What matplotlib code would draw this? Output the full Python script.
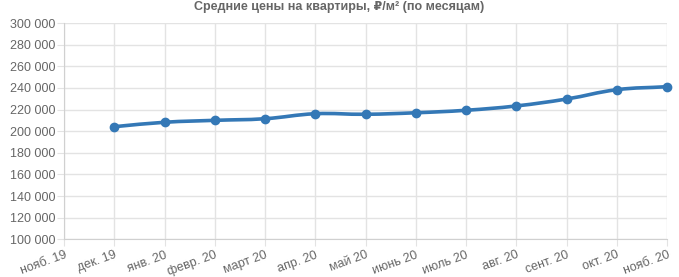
import matplotlib
matplotlib.use("Agg")
import matplotlib.pyplot as plt
import numpy as np
from matplotlib.path import Path
from matplotlib.patches import PathPatch
from matplotlib.ticker import FuncFormatter

plt.rcParams['font.family'] = ['Liberation Sans', 'DejaVu Sans']

# months on the x axis (first one has no data)
months = ['нояб. 19', 'дек. 19', 'янв. 20', 'февр. 20', 'март 20', 'апр. 20',
          'май 20', 'июнь 20', 'июль 20', 'авг. 20', 'сент. 20', 'окт. 20', 'нояб. 20']
prices = [None, 204100, 208200, 210000, 211500, 216100, 215600,
          217000, 219300, 223300, 229700, 238300, 241100]
y_ticks = list(range(100000, 300001, 20000))

line_color = '#3478b6'
grid_color = '#e3e3e3'
text_color = '#666666'

fig = plt.figure(figsize=(6.79, 2.77), dpi=100)
ax = fig.add_axes([64 / 679, (277 - 239.3) / 277, (667 - 64) / 679, (239.3 - 23) / 277])

x = list(range(len(months)))
xs = [i for i, v in zip(x, prices) if v is not None]
ys = [v for v in prices if v is not None]

ax.set_xlim(0, len(months) - 1)
ax.set_ylim(100000, 300000)

# smooth line like chart.js (tension 0.4), control points worked out in pixels
pts = ax.transData.transform(np.column_stack([xs, ys]))
tension = 0.4
verts = [pts[0]]
codes = [Path.MOVETO]
cps = []
for i in range(len(pts)):
    prev = pts[max(i - 1, 0)]
    cur = pts[i]
    nxt = pts[min(i + 1, len(pts) - 1)]
    d01 = np.hypot(*(cur - prev))
    d12 = np.hypot(*(nxt - cur))
    tot = d01 + d12
    s01 = d01 / tot if tot else 0
    s12 = d12 / tot if tot else 0
    cps.append((cur - tension * s01 * (nxt - prev), cur + tension * s12 * (nxt - prev)))
for i in range(1, len(pts)):
    verts += [cps[i - 1][1], cps[i][0], pts[i]]
    codes += [Path.CURVE4] * 3
verts = ax.transData.inverted().transform(np.array(verts))
ax.add_patch(PathPatch(Path(verts, codes), facecolor='none', edgecolor=line_color,
                       linewidth=2.6, capstyle='round', zorder=3))
ax.plot(xs, ys, linestyle='none', marker='o', markersize=6, color=line_color,
        zorder=4, clip_on=False)

ax.set_xticks(x)
ax.set_xticklabels(months, rotation=20, ha='right', rotation_mode='anchor')
ax.set_yticks(y_ticks)
ax.yaxis.set_major_formatter(FuncFormatter(lambda v, p: f"{int(v):,}".replace(',', ' ')))

ax.grid(True, color=grid_color, linewidth=1)
ax.set_axisbelow(True)
for s in ['top', 'right']:
    ax.spines[s].set_visible(False)
for s in ['left', 'bottom']:
    ax.spines[s].set_color('#d0d0d0')
ax.tick_params(axis='both', colors=grid_color, length=5, labelcolor=text_color, labelsize=9)
ax.tick_params(axis='y', pad=1)
ax.tick_params(axis='x', pad=2)

fig.suptitle('Средние цены на квартиры, ₽/м² (по месяцам)', x=0.5, y=0.995,
             fontsize=9, fontweight='bold', color=text_color)

fig.savefig('out.png', dpi=100)
